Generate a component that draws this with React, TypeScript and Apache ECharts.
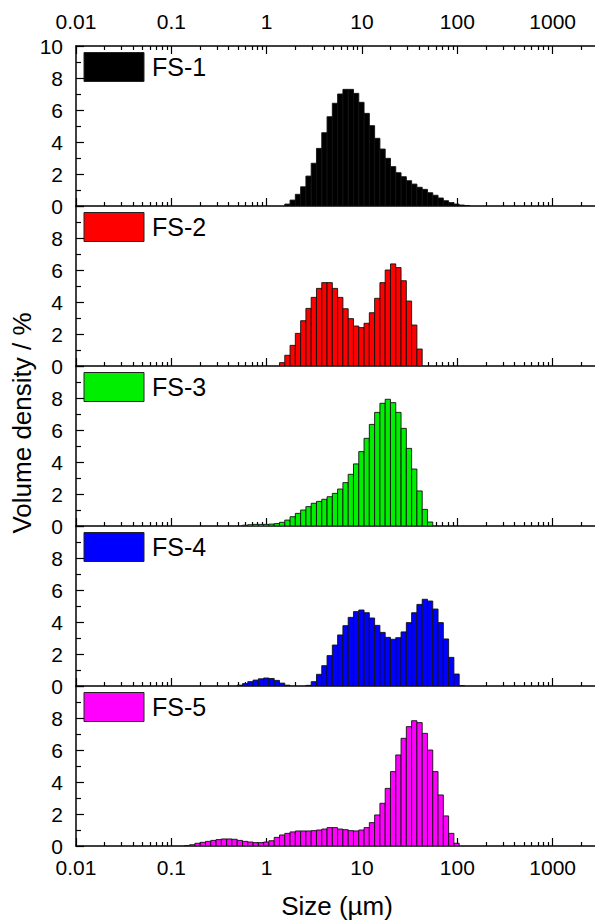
import React, { useEffect, useRef } from "react";
import * as echarts from "echarts";

// Instrument size classes: 100 log-spaced classes from 0.01 to 3500 µm
const SIZE_MIN = 0.01;
const SIZE_MAX = 3500;
const N_CLASSES = 100;

const X_TICKS = ["0.01", "0.1", "1", "10", "100", "1000"];
const Y_TICKS = [0, 2, 4, 6, 8, 10];

const SAMPLES = ["FS-1", "FS-2", "FS-3", "FS-4", "FS-5"];
const COLORS = ["#000000", "#ff0000", "#00ee00", "#0000ff", "#ff00ff"];

const FS1_START = 40;
const FS1 = [0.12, 0.37, 0.73, 1.2, 1.87, 2.67, 3.6, 4.58, 5.58, 6.42, 7.0, 7.29, 7.29, 7.04, 6.48, 5.79, 5.02, 4.23, 3.56, 2.98, 2.46, 2.08, 1.83, 1.58, 1.37, 1.17, 1.04, 0.83, 0.67, 0.5, 0.33, 0.21, 0.12, 0.06, 0.03];

const FS2_START = 39;
const FS2 = [0.21, 0.67, 1.29, 2.04, 2.83, 3.6, 4.29, 4.85, 5.21, 5.21, 4.85, 4.29, 3.58, 2.96, 2.5, 2.4, 2.67, 3.33, 4.23, 5.21, 6.0, 6.38, 6.15, 5.33, 4.06, 2.56, 1.06];

const FS3_START = 32;
const FS3 = [0.05, 0.08, 0.1, 0.1, 0.1, 0.12, 0.15, 0.23, 0.37, 0.58, 0.79, 1.0, 1.21, 1.42, 1.54, 1.67, 1.83, 2.04, 2.31, 2.71, 3.23, 3.88, 4.65, 5.48, 6.35, 7.1, 7.67, 7.92, 7.71, 7.1, 6.1, 4.85, 3.56, 2.19, 1.04, 0.25];

const FS4_START = 31;
const FS4 = [0.05, 0.15, 0.27, 0.37, 0.45, 0.5, 0.47, 0.35, 0.18, 0.05, 0, 0, 0, 0.04, 0.27, 0.73, 1.27, 1.9, 2.56, 3.19, 3.77, 4.29, 4.65, 4.75, 4.58, 4.25, 3.79, 3.35, 3.04, 2.92, 3.02, 3.38, 3.96, 4.58, 5.1, 5.42, 5.31, 4.81, 3.96, 2.94, 1.79, 0.75, 0.02];

const FS5_START = 21;
const FS5 = [0.02, 0.08, 0.17, 0.23, 0.29, 0.35, 0.4, 0.44, 0.44, 0.42, 0.35, 0.29, 0.25, 0.21, 0.21, 0.25, 0.33, 0.54, 0.69, 0.79, 0.88, 0.94, 0.94, 0.94, 0.96, 1.0, 1.06, 1.15, 1.15, 1.06, 1.02, 0.96, 0.94, 1.0, 1.15, 1.46, 1.94, 2.67, 3.6, 4.65, 5.69, 6.73, 7.46, 7.83, 7.71, 7.04, 6.0, 4.65, 3.19, 1.88, 0.79, 0.17];

const SERIES_VALUES = [FS1, FS2, FS3, FS4, FS5];
const SERIES_STARTS = [FS1_START, FS2_START, FS3_START, FS4_START, FS5_START];

const FONT = "Liberation Sans, Arial, sans-serif";
const W = 595;
const H = 922;
const CHART_W = 670; // wider than the page; the part past 595px is cut off
const LEFT = 76;
const GRID_W = 572; // 6 decades (0.01 .. 10000)
const TOPS = [46, 206, 366, 526, 686];
const PANEL_H = 160;

const RATIO = Math.pow(SIZE_MAX / SIZE_MIN, 1 / N_CLASSES);
const HALF = Math.sqrt(RATIO);
const classSize = (k: number) => SIZE_MIN * Math.pow(RATIO, k);

function buildOption() {
  const grids: any[] = [];
  const xAxes: any[] = [];
  const yAxes: any[] = [];
  const series: any[] = [];
  const graphics: any[] = [];

  const axisLine = { show: true, lineStyle: { color: "#000", width: 1.5 } };
  const fmt = (v: number) => {
    const s = String(+v.toPrecision(6));
    return X_TICKS.indexOf(s) >= 0 ? s : "";
  };

  for (let i = 0; i < 5; i++) {
    grids.push({ left: LEFT, width: GRID_W, top: TOPS[i], height: PANEL_H, containLabel: false });
    xAxes.push({
      type: "log",
      logBase: 10,
      gridIndex: i,
      min: 0.01,
      max: 10000,
      position: "bottom",
      axisLine,
      axisTick: { show: true, inside: true, length: 8, lineStyle: { color: "#000", width: 1.2 } },
      minorTick: { show: true, splitNumber: 9, length: 4, lineStyle: { color: "#000", width: 1.2 } },
      splitLine: { show: false },
      minorSplitLine: { show: false },
      axisLabel: {
        show: i === 4,
        margin: 11,
        fontSize: 21,
        fontFamily: FONT,
        color: "#000",
        formatter: fmt,
        showMaxLabel: false,
      },
    });
    yAxes.push({
      type: "value",
      gridIndex: i,
      min: 0,
      max: 10,
      interval: 2,
      axisLine,
      axisTick: { show: true, inside: true, length: 8, lineStyle: { color: "#000", width: 1.2 } },
      minorTick: { show: true, splitNumber: 2, length: 5, lineStyle: { color: "#000", width: 1.2 } },
      splitLine: { show: false },
      axisLabel: {
        margin: 13,
        fontSize: 21,
        fontFamily: FONT,
        color: "#000",
        showMaxLabel: i === 0,
        formatter: (v: number) => (Y_TICKS.indexOf(v) >= 0 ? String(v) : ""),
      },
    });

    const color = COLORS[i];
    const start = SERIES_STARTS[i];
    const data = SERIES_VALUES[i].map((v, j) => [classSize(start + j), v]);
    series.push({
      type: "custom",
      xAxisIndex: i,
      yAxisIndex: i,
      data,
      clip: true,
      renderItem: (params: any, api: any) => {
        const s = api.value(0);
        const v = api.value(1);
        if (!(v > 0)) return null;
        const p0 = api.coord([s / HALF, 0]);
        const p1 = api.coord([s * HALF, v]);
        return {
          type: "rect",
          shape: { x: p0[0], y: p1[1], width: p1[0] - p0[0], height: p0[1] - p1[1] },
          style: { fill: color, stroke: "#111", lineWidth: 0.9 },
        };
      },
    });

    // legend box
    graphics.push({
      type: "rect",
      shape: { x: 84, y: TOPS[i] + 6.5, width: 60, height: 29 },
      style: { fill: color, stroke: "#222", lineWidth: 1 },
    });
    graphics.push({
      type: "text",
      x: 152,
      y: TOPS[i] + 21,
      style: {
        text: SAMPLES[i],
        fontSize: 25,
        fontFamily: FONT,
        fill: "#000",
        textVerticalAlign: "middle",
        textAlign: "left",
      },
    });
  }

  // top axis of the first panel
  xAxes.push({
    type: "log",
    logBase: 10,
    gridIndex: 0,
    min: 0.01,
    max: 10000,
    position: "top",
    axisLine,
    axisTick: { show: true, inside: true, length: 8, lineStyle: { color: "#000", width: 1.2 } },
    minorTick: { show: true, splitNumber: 9, length: 4, lineStyle: { color: "#000", width: 1.2 } },
    splitLine: { show: false },
    axisLabel: {
      show: true,
      margin: 14,
      fontSize: 21,
      fontFamily: FONT,
      color: "#000",
      formatter: fmt,
      showMaxLabel: false,
    },
  });

  graphics.push({
    type: "text",
    x: 22,
    y: 423,
    rotation: Math.PI / 2,
    style: {
      text: "Volume density / %",
      fontSize: 26,
      fontFamily: FONT,
      fill: "#000",
      textAlign: "center",
      textVerticalAlign: "middle",
    },
  });
  graphics.push({
    type: "text",
    x: 337,
    y: 906,
    style: {
      text: "Size (µm)",
      fontSize: 26,
      fontFamily: FONT,
      fill: "#000",
      textAlign: "center",
      textVerticalAlign: "middle",
    },
  });

  return {
    animation: false,
    backgroundColor: "#fff",
    grid: grids,
    xAxis: xAxes,
    yAxis: yAxes,
    series,
    graphic: graphics,
  };
}

export default function App() {
  const ref = useRef<HTMLDivElement>(null);
  useEffect(() => {
    if (!ref.current) return;
    const chart = echarts.init(ref.current, undefined, { renderer: "svg" });
    chart.setOption(buildOption() as any);
    return () => chart.dispose();
  }, []);
  return (
    <div
      style={{ position: "absolute", left: 0, top: 0, width: W, height: H, overflow: "hidden", background: "#fff" }}
    >
      <div ref={ref} style={{ width: CHART_W, height: H }} />
    </div>
  );
}
